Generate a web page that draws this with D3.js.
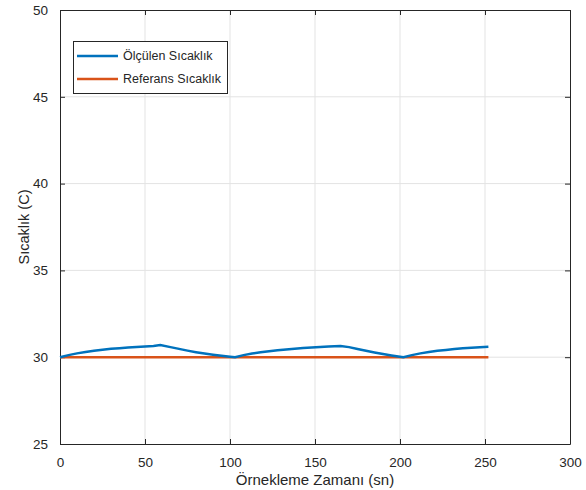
<!DOCTYPE html>
<html>
<head>
<meta charset="utf-8">
<script src="https://cdn.jsdelivr.net/npm/d3@7"></script>
<style>
  body { margin: 0; background: #fff; }
  text { font-family: "Liberation Sans", Arial, sans-serif; fill: #262626; }
</style>
</head>
<body>
<svg id="chart" width="586" height="490"></svg>
<script>
// sample times (sn) and measured temperature (C)
const times = [0, 5, 10, 15, 20, 25, 30, 35, 40, 45, 50, 55, 59,
  65, 70, 75, 80, 85, 90, 95, 100, 103,
  108, 113, 118, 123, 128, 133, 138, 143, 148, 153, 158, 165,
  170, 175, 180, 185, 190, 195, 200, 202,
  207, 212, 217, 222, 227, 232, 237, 242, 247, 252];
const measured = [30.00, 30.12, 30.22, 30.30, 30.37, 30.43, 30.48, 30.52, 30.56, 30.59, 30.62, 30.65, 30.70,
  30.58, 30.48, 30.38, 30.29, 30.21, 30.14, 30.08, 30.03, 30.00,
  30.12, 30.21, 30.28, 30.34, 30.40, 30.45, 30.49, 30.53, 30.56, 30.59, 30.62, 30.65,
  30.58, 30.47, 30.37, 30.27, 30.18, 30.10, 30.03, 30.00,
  30.12, 30.22, 30.30, 30.37, 30.42, 30.47, 30.51, 30.54, 30.57, 30.60];
const reference = times.map(() => 30);

const xTicks = [0, 50, 100, 150, 200, 250, 300];
const yTicks = [25, 30, 35, 40, 45, 50];
const seriesNames = ['Ölçülen Sıcaklık', 'Referans Sıcaklık'];
const seriesColors = ['#0072BD', '#D95319'];

const plotLeft = 60, plotRight = 570, plotTop = 10, plotBottom = 444;

const svg = d3.select('#chart');

const x = d3.scaleLinear().domain([0, 300]).range([plotLeft, plotRight]);
const y = d3.scaleLinear().domain([25, 50]).range([plotBottom, plotTop]);

// grid
svg.append('g')
  .selectAll('line')
  .data(xTicks.slice(1, -1))
  .enter()
  .append('line')
  .attr('x1', d => x(d)).attr('x2', d => x(d))
  .attr('y1', plotTop).attr('y2', plotBottom)
  .attr('stroke', '#e3e3e3');

svg.append('g')
  .selectAll('line')
  .data(yTicks.slice(1, -1))
  .enter()
  .append('line')
  .attr('x1', plotLeft).attr('x2', plotRight)
  .attr('y1', d => y(d)).attr('y2', d => y(d))
  .attr('stroke', '#e3e3e3');

// axes (ticks inward)
const xAxis = svg.append('g')
  .attr('transform', `translate(0, ${plotBottom})`)
  .call(d3.axisBottom(x).tickValues(xTicks).tickSizeInner(-5).tickSizeOuter(0).tickPadding(16));
const yAxis = svg.append('g')
  .attr('transform', `translate(${plotLeft}, 0)`)
  .call(d3.axisLeft(y).tickValues(yTicks).tickSizeInner(-5).tickSizeOuter(0).tickPadding(12));
const xTop = svg.append('g')
  .attr('transform', `translate(0, ${plotTop})`)
  .call(d3.axisTop(x).tickValues(xTicks).tickSizeInner(-5).tickSizeOuter(0).tickFormat(''));
const yRight = svg.append('g')
  .attr('transform', `translate(${plotRight}, 0)`)
  .call(d3.axisRight(y).tickValues(yTicks).tickSizeInner(-5).tickSizeOuter(0).tickFormat(''));

[xAxis, yAxis, xTop, yRight].forEach(a => {
  a.select('.domain').attr('stroke', '#262626');
  a.selectAll('.tick line').attr('stroke', '#262626');
  a.selectAll('.tick text')
    .attr('font-size', 13.5)
    .attr('font-family', '"Liberation Sans", Arial, sans-serif')
    .attr('fill', '#3a3a3a');
});
xAxis.selectAll('.tick text').attr('dy', '0.5em');

// lines
const line = d3.line()
  .x((d, i) => x(times[i]))
  .y(d => y(d));

svg.append('path')
  .datum(reference)
  .attr('d', line)
  .attr('fill', 'none')
  .attr('stroke', seriesColors[1])
  .attr('stroke-width', 2.5);

svg.append('path')
  .datum(measured)
  .attr('d', line)
  .attr('fill', 'none')
  .attr('stroke', seriesColors[0])
  .attr('stroke-width', 2.5);

// axis labels
svg.append('text')
  .text('Örnekleme Zamanı (sn)')
  .attr('x', (plotLeft + plotRight) / 2)
  .attr('y', 485)
  .attr('text-anchor', 'middle')
  .attr('font-size', 15)
  .attr('fill', '#3a3a3a');

svg.append('text')
  .text('Sıcaklık (C)')
  .attr('transform', `translate(29, ${(plotTop + plotBottom) / 2}) rotate(-90)`)
  .attr('text-anchor', 'middle')
  .attr('font-size', 14.5)
  .attr('fill', '#3a3a3a');

// legend
const legend = svg.append('g');
legend.append('rect')
  .attr('x', 73.5).attr('y', 41.5)
  .attr('width', 154).attr('height', 52)
  .attr('fill', '#fff')
  .attr('stroke', '#262626');

legend.selectAll('line')
  .data(seriesNames)
  .enter()
  .append('line')
  .attr('x1', 77).attr('x2', 118)
  .attr('y1', (d, i) => 56 + i * 23)
  .attr('y2', (d, i) => 56 + i * 23)
  .attr('stroke', (d, i) => seriesColors[i])
  .attr('stroke-width', 2.5);

legend.selectAll('text')
  .data(seriesNames)
  .enter()
  .append('text')
  .text(d => d)
  .attr('x', 123)
  .attr('y', (d, i) => 60 + i * 23)
  .attr('font-size', 12.5);
</script>
</body>
</html>
